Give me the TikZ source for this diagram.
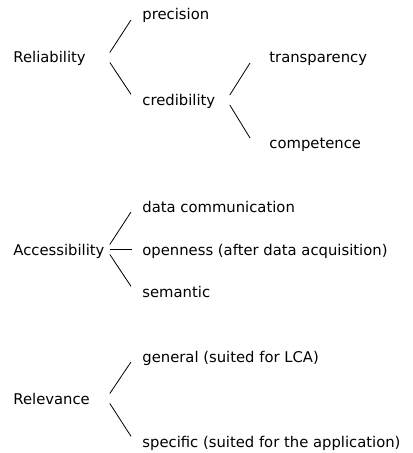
\documentclass[tikz,border=0pt]{standalone}
\usepackage{fontspec}
\setmainfont{DejaVu Sans}
\usepackage{tikz}
\usetikzlibrary{positioning}

\begin{document}
\begin{tikzpicture}[x=0.75pt,y=-0.75pt,
  every node/.style={inner sep=0pt,anchor=base west,font=\fontsize{11.1pt}{13pt}\selectfont},
  root/.style={text width=72pt,align=left},
  every path/.style={line width=0.6pt}]
  \useasboundingbox (0,0) rectangle (412,453);
  % Reliability
  \node[root] (rel) at (13,63) {Reliability};
  \node (prec) at (142,20) {precision};
  \node[text width=65.25pt,align=left] (cred) at (142,105) {credibility};
  \node (transp) at (269,63) {transparency};
  \node (comp) at (269,148) {competence};
  % Accessibility
  \node[root] (acc) at (13,255) {Accessibility};
  \node (datcom) at (142,212) {data communication};
  \node (open) at (142,255) {openness (after data acquisition)};
  \node (sem) at (142,297) {semantic};
  % Relevance
  \node[root] (relv) at (13,404) {Relevance};
  \node (gen) at (142,362) {general (suited for LCA)};
  \node (spec) at (142,447) {specific (suited for the application)};
  \foreach \p/\c in {rel/prec,acc/datcom,relv/gen}
    \draw ([yshift=7.9pt]\p.base east) -- ([xshift=-8.25pt]\c.base west);
  \foreach \p/\c in {rel/cred,acc/sem,relv/spec}
    \draw ([yshift=0.4pt]\p.base east) -- ([xshift=-8.25pt,yshift=8pt]\c.base west);
  \draw ([yshift=4.5pt]acc.base east) -- ([xshift=-7.5pt,yshift=4.5pt]open.base west);
  \draw ([yshift=7.5pt]cred.base east) -- ([xshift=-14.25pt]transp.base west);
  \draw (cred.base east) -- ([xshift=-14.25pt,yshift=7.5pt]comp.base west);
\end{tikzpicture}
\end{document}
